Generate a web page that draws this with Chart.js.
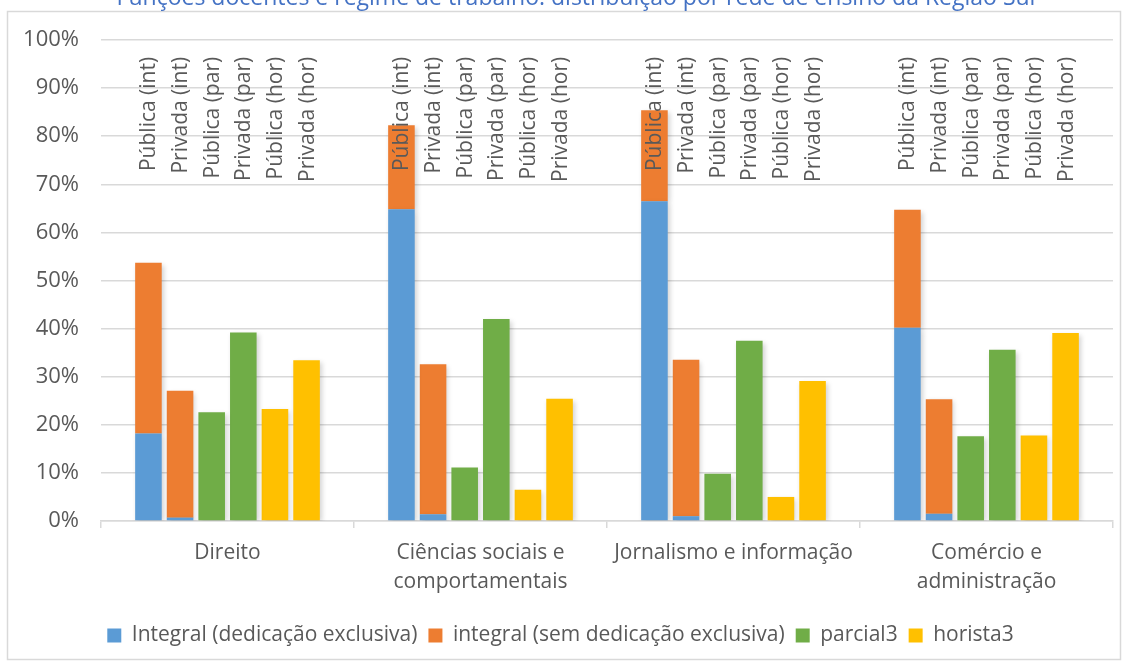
<!DOCTYPE html>
<html>
<head>
<meta charset="utf-8">
<script src="https://cdn.jsdelivr.net/npm/chart.js@4/dist/chart.umd.min.js"></script>
<style>
  html, body { margin: 0; padding: 0; background: #ffffff; }
  #wrap { width: 1131px; height: 666px; position: relative; }
</style>
</head>
<body>
<div id="wrap"><canvas id="c" width="1131" height="666"></canvas></div>
<script>
const chartTitle = 'Funções docentes e regime de trabalho: distribuição por rede de ensino da Região Sul';
const categories = ['Direito', ['Ciências sociais e', 'comportamentais'], 'Jornalismo e informação', ['Comércio e', 'administração']];
const barLabels = ['Pública (int)', 'Privada (int)', 'Pública (par)', 'Privada (par)', 'Pública (hor)', 'Privada (hor)'];
const legendNames = ['Integral (dedicação exclusiva)', 'integral (sem dedicação exclusiva)', 'parcial3', 'horista3'];
const yTickLabels = ['0%', '10%', '20%', '30%', '40%', '50%', '60%', '70%', '80%', '90%', '100%'];

const publicaIntegralDE    = [18.2, 64.8, 66.5, 40.2];
const publicaIntegralSemDE = [35.5, 17.5, 18.9, 24.5];
const privadaIntegralDE    = [0.7, 1.4, 1.0, 1.5];
const privadaIntegralSemDE = [26.4, 31.2, 32.5, 23.8];
const publicaParcial       = [22.6, 11.1, 9.8, 17.6];
const privadaParcial       = [39.2, 42.0, 37.5, 35.6];
const publicaHorista       = [23.3, 6.5, 5.0, 17.8];
const privadaHorista       = [33.4, 25.4, 29.1, 39.1];

const BLUE = '#5B9BD5', ORANGE = '#ED7D31', GREEN = '#70AD47', YELLOW = '#FFC000';
const TEXT = '#595959', GRID = '#D9D9D9';
const FONT = "'Open Sans', 'Noto Sans', sans-serif";

const datasets = [
  { label: legendNames[0], data: publicaIntegralDE, backgroundColor: BLUE, stack: 's0' },
  { label: legendNames[1], data: publicaIntegralSemDE, backgroundColor: ORANGE, stack: 's0' },
  { label: legendNames[0], data: privadaIntegralDE, backgroundColor: BLUE, stack: 's1' },
  { label: legendNames[1], data: privadaIntegralSemDE, backgroundColor: ORANGE, stack: 's1' },
  { label: legendNames[2], data: publicaParcial, backgroundColor: GREEN, stack: 's2' },
  { label: legendNames[2], data: privadaParcial, backgroundColor: GREEN, stack: 's3' },
  { label: legendNames[3], data: publicaHorista, backgroundColor: YELLOW, stack: 's4' },
  { label: legendNames[3], data: privadaHorista, backgroundColor: YELLOW, stack: 's5' }
];
const slotDataset = [0, 2, 4, 5, 6, 7];
const legendDatasets = [0, 1, 4, 6];

const framePlugin = {
  id: 'frame',
  beforeDraw(chart) {
    const ctx = chart.ctx;
    ctx.save();
    ctx.fillStyle = '#ffffff';
    ctx.fillRect(0, 0, chart.width, chart.height);
    ctx.strokeStyle = GRID;
    ctx.lineWidth = 1.5;
    ctx.strokeRect(7.5, 11.5, 1113, 648);
    ctx.fillStyle = '#4472C4';
    ctx.font = '23px ' + FONT;
    ctx.textAlign = 'center';
    ctx.textBaseline = 'alphabetic';
    ctx.fillText(chartTitle, 576, 5);
    ctx.restore();
  }
};

const shadowPlugin = {
  id: 'barShadow',
  beforeDatasetsDraw(chart) {
    const ctx = chart.ctx;
    ctx.save();
    ctx.shadowColor = 'rgba(0,0,0,0.18)';
    ctx.shadowBlur = 5;
    ctx.shadowOffsetX = 2;
    ctx.shadowOffsetY = 2;
  },
  afterDatasetsDraw(chart) {
    chart.ctx.restore();
  }
};

const barLabelPlugin = {
  id: 'barLabels',
  afterDatasetsDraw(chart) {
    const ctx = chart.ctx;
    const y = chart.scales.y.getPixelForValue(96.5);
    ctx.save();
    ctx.fillStyle = TEXT;
    ctx.font = '21px ' + FONT;
    ctx.textAlign = 'right';
    ctx.textBaseline = 'middle';
    for (let c = 0; c < categories.length; c++) {
      slotDataset.forEach((ds, j) => {
        const el = chart.getDatasetMeta(ds).data[c];
        ctx.save();
        ctx.translate(el.x + 1, y);
        ctx.rotate(-Math.PI / 2);
        ctx.fillText(barLabels[j], 0, 0);
        ctx.restore();
      });
    }
    ctx.restore();
  }
};

new Chart(document.getElementById('c'), {
  type: 'bar',
  data: { labels: categories, datasets: datasets },
  plugins: [framePlugin, shadowPlugin, barLabelPlugin],
  options: {
    responsive: false,
    animation: false,
    devicePixelRatio: 1,
    categoryPercentage: 0.75,
    barPercentage: 0.84,
    layout: { padding: { left: 8, right: 18, top: 40, bottom: 10 } },
    plugins: {
      title: { display: false },
      tooltip: { enabled: false },
      legend: {
        position: 'bottom',
        labels: {
          color: TEXT,
          font: { family: FONT, size: 21 },
          boxWidth: 14,
          boxHeight: 14,
          padding: 11,
          filter: (item) => legendDatasets.includes(item.datasetIndex)
        }
      }
    },
    scales: {
      x: {
        stacked: true,
        grid: { display: true, offset: true, drawOnChartArea: false, drawTicks: true, tickLength: 7, color: GRID, lineWidth: 1.5 },
        border: { display: true, color: GRID, width: 1.5 },
        ticks: { color: TEXT, font: { family: FONT, size: 21, lineHeight: 1.4 }, padding: 10, maxRotation: 0, autoSkip: false },
        afterFit: (s) => { s.height = 93; }
      },
      y: {
        stacked: true,
        min: 0, max: 100,
        grid: { color: GRID, lineWidth: 1.5, drawTicks: false },
        border: { display: false },
        ticks: {
          stepSize: 10, color: TEXT, font: { family: FONT, size: 22 }, padding: 22,
          callback: (v, i) => yTickLabels[Math.round(v / 10)]
        },
        afterFit: (s) => { s.width = 93; }
      }
    }
  }
});
</script>
</body>
</html>
